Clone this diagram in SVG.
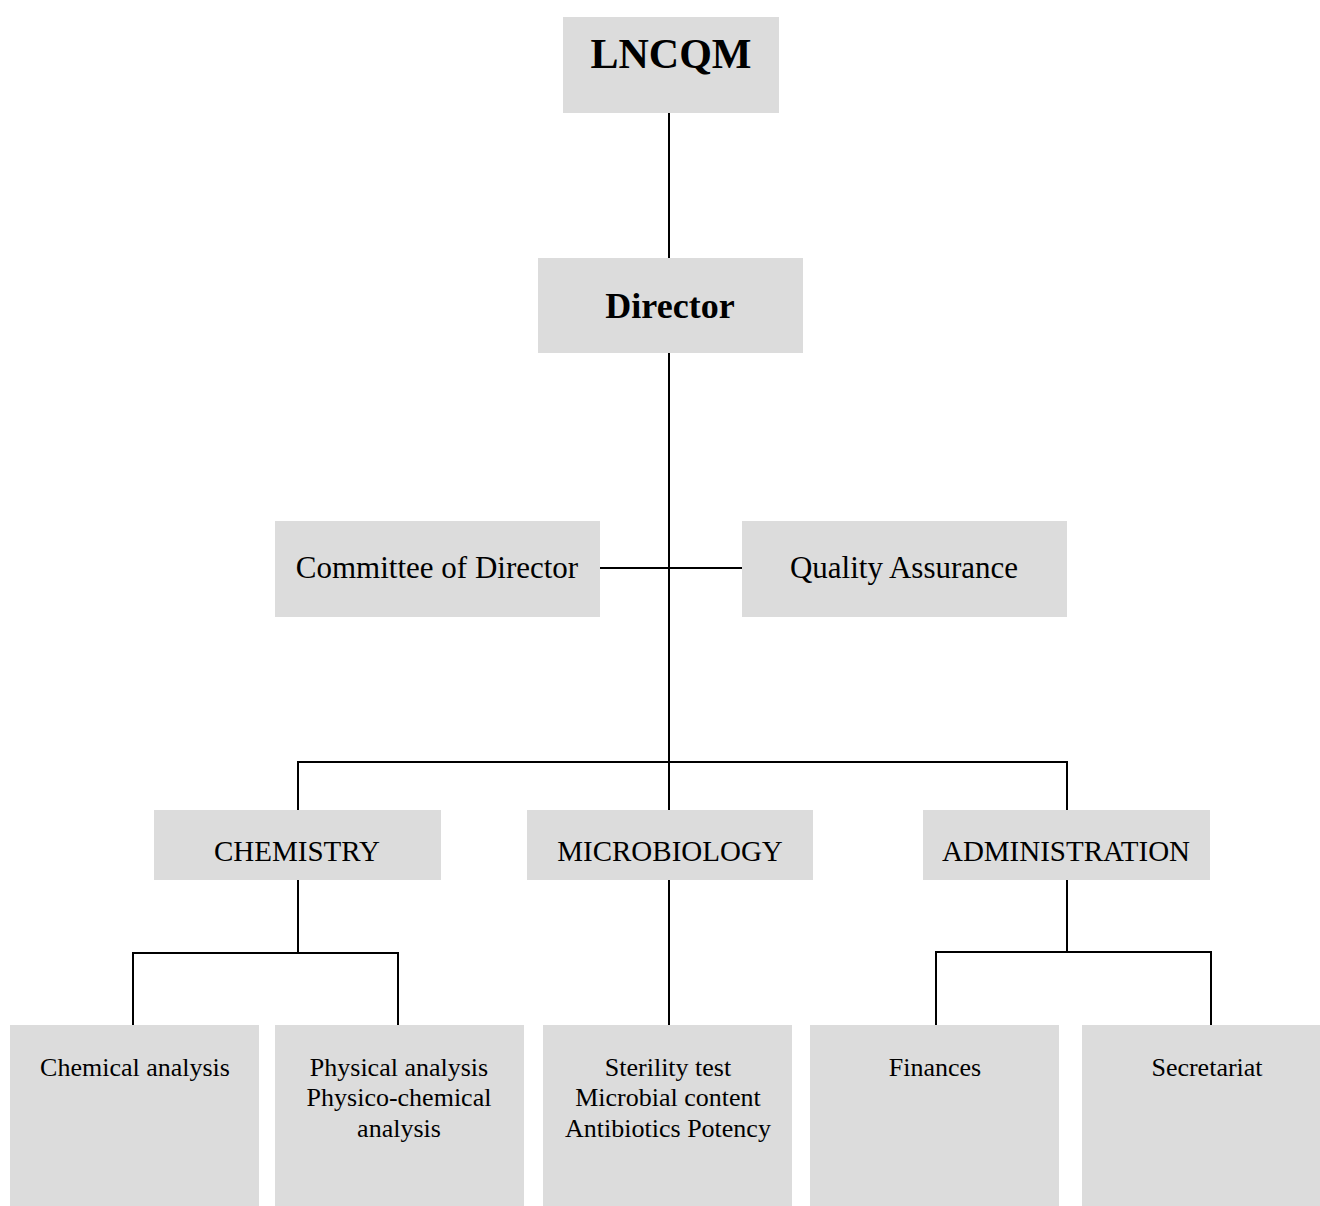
<svg xmlns="http://www.w3.org/2000/svg" width="1320" height="1206" viewBox="0 0 1320 1206">
<style>
.box{fill:#dcdcdc}
.t{font-family:"Liberation Serif","Times New Roman",serif;fill:#000;text-anchor:middle}
.b{font-weight:bold}
.ln{stroke:#000;stroke-width:2;fill:none}
.m{font-size:31px}
.d{font-size:29px}
.s{font-size:26px}
</style>
<rect width="1320" height="1206" fill="#fff"/>
<g id="connectors">
<path class="ln" d="M669 113V258M669 353V810M600 568H742M298 810V762H1067V810M298 880V953M133 1025V953H398V1025M669 880V1025M1067 880V952M936 1025V952H1211V1025"/>
</g>
<g id="lncqm"><rect class="box" x="563" y="17" width="216" height="96"/><text class="t b" x="671" y="68" font-size="42">LNCQM</text></g>
<g id="director"><rect class="box" x="538" y="258" width="265" height="95"/><text class="t b" x="670" y="318" font-size="36">Director</text></g>
<g id="committee"><rect class="box" x="275" y="521" width="325" height="96"/><text class="t m" x="437" y="578">Committee of Director</text></g>
<g id="qa"><rect class="box" x="742" y="521" width="325" height="96"/><text class="t m" x="904" y="578">Quality Assurance</text></g>
<g id="chemistry"><rect class="box" x="154" y="810" width="287" height="70"/><text class="t d" x="297" y="861">CHEMISTRY</text></g>
<g id="microbiology"><rect class="box" x="527" y="810" width="286" height="70"/><text class="t d" x="670" y="861">MICROBIOLOGY</text></g>
<g id="administration"><rect class="box" x="923" y="810" width="287" height="70"/><text class="t d" x="1066" y="861">ADMINISTRATION</text></g>
<g id="chemical"><rect class="box" x="10" y="1025" width="249" height="181"/><text class="t s" x="135" y="1076">Chemical analysis</text></g>
<g id="physical"><rect class="box" x="275" y="1025" width="249" height="181"/><text class="t s"><tspan x="399" y="1076">Physical analysis</tspan><tspan x="399" y="1106">Physico-chemical</tspan><tspan x="399" y="1137">analysis</tspan></text></g>
<g id="sterility"><rect class="box" x="543" y="1025" width="249" height="181"/><text class="t s"><tspan x="668" y="1076">Sterility test</tspan><tspan x="668" y="1106">Microbial content</tspan><tspan x="668" y="1137">Antibiotics Potency</tspan></text></g>
<g id="finances"><rect class="box" x="810" y="1025" width="249" height="181"/><text class="t s" x="935" y="1076">Finances</text></g>
<g id="secretariat"><rect class="box" x="1082" y="1025" width="238" height="181"/><text class="t s" x="1207" y="1076">Secretariat</text></g>
</svg>
